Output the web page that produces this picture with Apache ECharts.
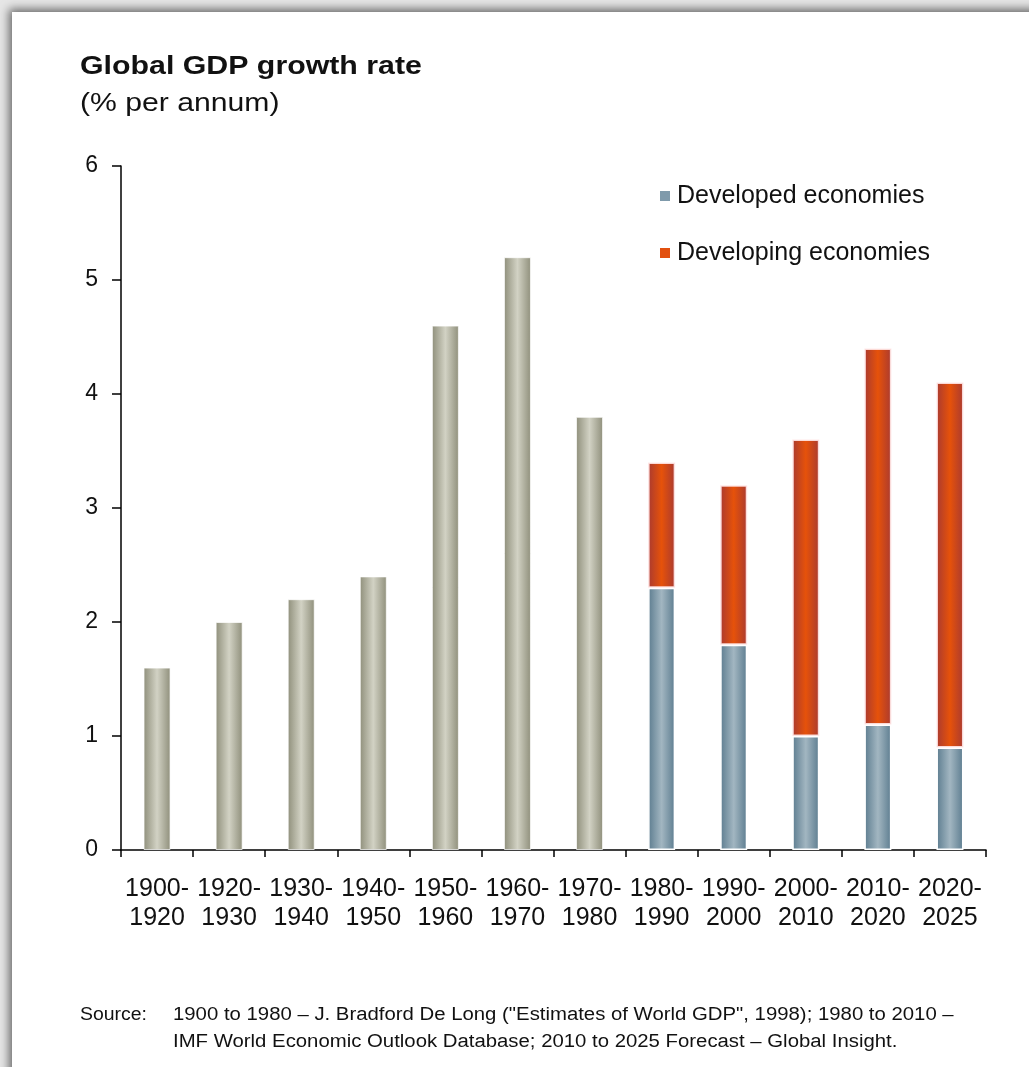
<!DOCTYPE html>
<html>
<head>
<meta charset="utf-8">
<script src="https://cdn.jsdelivr.net/npm/echarts@6/dist/echarts.min.js"></script>
<style>
html,body{margin:0;padding:0;width:1029px;height:1067px;overflow:hidden;background:#e6e6e6;}
#frame{position:absolute;left:12px;top:12px;width:1040px;height:1080px;background:#fff;box-shadow:-3px -3px 9px rgba(0,0,0,0.55);}
#chart{position:absolute;left:0;top:0;width:1029px;height:1067px;}
</style>
</head>
<body>
<div id="frame"></div>
<div id="chart"></div>
<script>
const categories = ['1900-\n1920','1920-\n1930','1930-\n1940','1940-\n1950','1950-\n1960','1960-\n1970','1970-\n1980','1980-\n1990','1990-\n2000','2000-\n2010','2010-\n2020','2020-\n2025'];
const globalValues = [1.6, 2.0, 2.2, 2.4, 4.6, 5.2, 3.8, '-', '-', '-', '-', '-'];
const developedValues = ['-', '-', '-', '-', '-', '-', '-', 2.3, 1.8, 1.0, 1.1, 0.9];
const developingValues = ['-', '-', '-', '-', '-', '-', '-', 1.1, 1.4, 2.6, 3.3, 3.2];
const yTicks = [0, 1, 2, 3, 4, 5, 6];

const font = '"Liberation Sans", Arial, sans-serif';
function hGrad(edge, mid) {
  return new echarts.graphic.LinearGradient(0, 0, 1, 0, [
    {offset: 0, color: edge}, {offset: 0.5, color: mid}, {offset: 1, color: edge}
  ]);
}
const chart = echarts.init(document.getElementById('chart'), null, {renderer: 'canvas'});
chart.setOption({
  backgroundColor: 'transparent',
  animation: false,
  legend: {
    orient: 'vertical',
    left: 655, top: 178,
    itemWidth: 10, itemHeight: 10,
    itemGap: 31,
    icon: 'rect',
    data: [
      {name: 'Developed economies', itemStyle: {color: '#7f9aab', borderWidth: 0}},
      {name: 'Developing economies', itemStyle: {color: '#e2500f', borderWidth: 0}}
    ],
    textStyle: {fontFamily: font, fontSize: 25, lineHeight: 26, color: '#111', padding: [0, 0, 0, 2]}
  },
  grid: {left: 121, right: 43, top: 166, bottom: 217, containLabel: false},
  xAxis: {
    type: 'category',
    data: categories,
    axisLine: {lineStyle: {color: '#000', width: 1.5}},
    axisTick: {show: true, length: 7, lineStyle: {color: '#000', width: 1.5}},
    axisLabel: {fontFamily: font, fontSize: 25, color: '#111', lineHeight: 29, margin: 25, interval: 0}
  },
  yAxis: {
    type: 'value',
    min: 0, max: 6, interval: 1,
    splitLine: {show: false},
    axisLine: {show: true, lineStyle: {color: '#000', width: 1.5}},
    axisTick: {show: true, length: 9, lineStyle: {color: '#000', width: 1.5}},
    axisLabel: {fontFamily: font, fontSize: 23, color: '#111', margin: 23,
      formatter: v => yTicks.includes(v) ? String(v) : ''}
  },
  series: [
    {
      name: 'Global', type: 'bar', stack: 'g', data: globalValues, barWidth: 27,
      itemStyle: {color: hGrad('#8f8f7b', '#d2d2c4'), borderColor: 'rgba(255,255,255,0.7)', borderWidth: 1}
    },
    {
      name: 'Developed economies', type: 'bar', stack: 'g', data: developedValues, barWidth: 27,
      itemStyle: {color: hGrad('#5c7c8f', '#a2b6c1'), borderColor: '#ffffff', borderWidth: 1.5}
    },
    {
      name: 'Developing economies', type: 'bar', stack: 'g', data: developingValues, barWidth: 27,
      itemStyle: {color: hGrad('#aa3a30', '#e6520a'), borderColor: 'rgba(255,230,230,0.9)', borderWidth: 1.5}
    }
  ],
  graphic: [
    {type: 'text', x: 80, y: 54, scaleX: 1.166,
      style: {text: 'Global GDP growth rate', fontFamily: font, fontSize: 26, fontWeight: 'bold', fill: '#111'}},
    {type: 'text', x: 80, y: 91, scaleX: 1.16,
      style: {text: '(% per annum)', fontFamily: font, fontSize: 26, fill: '#111'}},
    {type: 'text', x: 80, y: 1002, scaleX: 1.08,
      style: {text: 'Source:', fontFamily: font, fontSize: 18, lineHeight: 27, fill: '#111'}},
    {type: 'text', x: 173, y: 1002, scaleX: 1.13,
      style: {text: '1900 to 1980 \u2013 J. Bradford De Long ("Estimates of World GDP", 1998); 1980 to 2010 \u2013\nIMF World Economic Outlook Database; 2010 to 2025 Forecast \u2013 Global Insight.',
        fontFamily: font, fontSize: 18, lineHeight: 27, fill: '#111'}}
  ]
});
</script>
</body>
</html>
